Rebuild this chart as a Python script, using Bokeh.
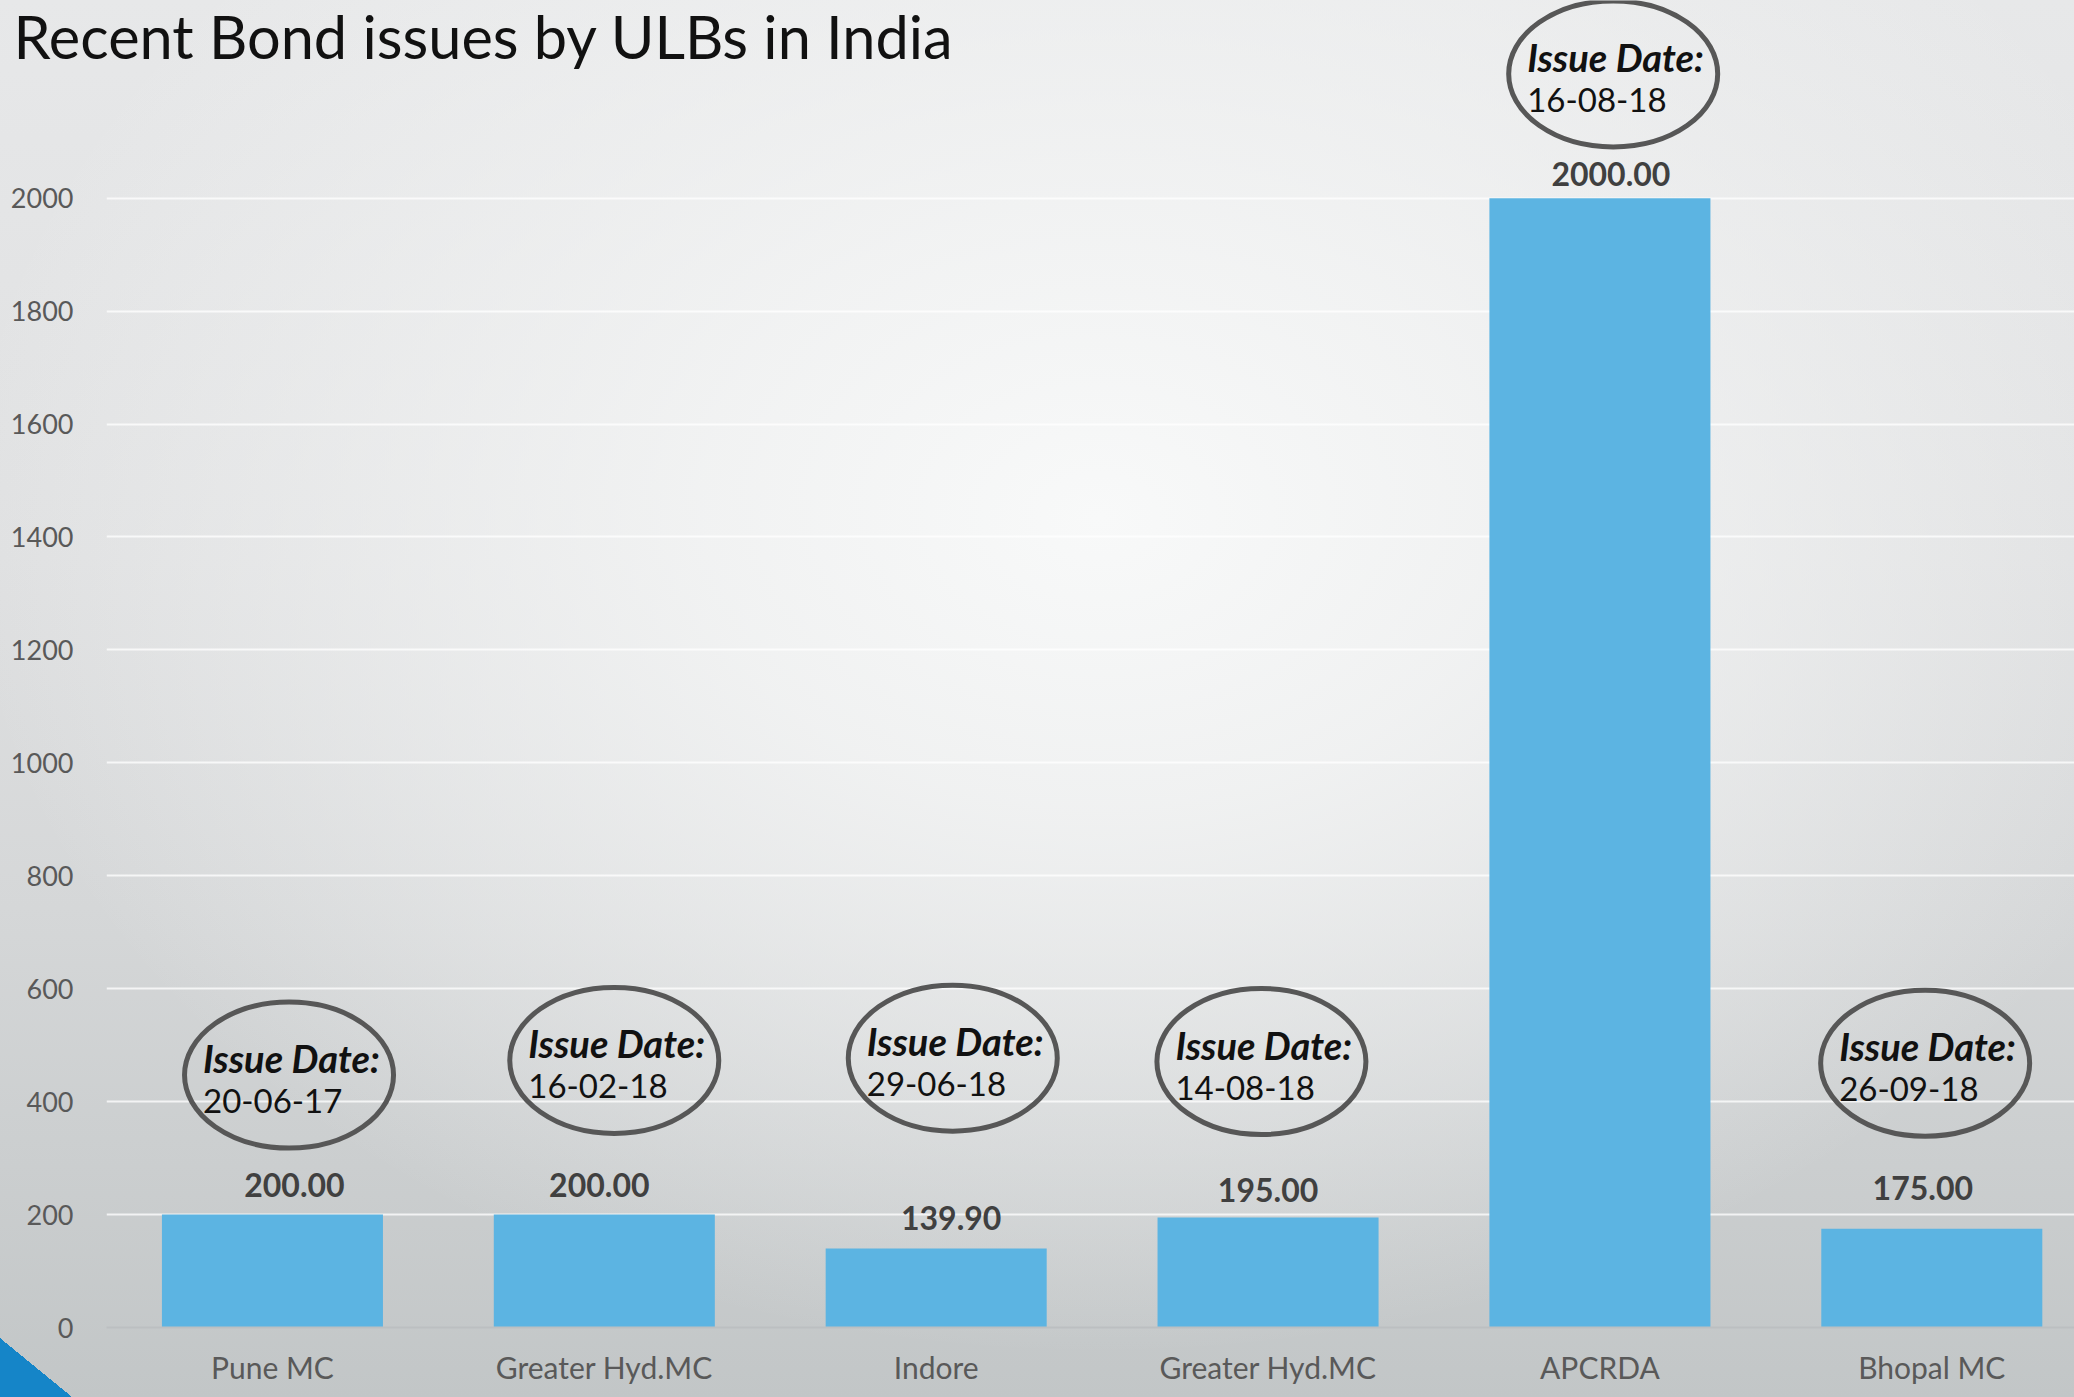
from bokeh.plotting import figure
from bokeh.models import Range1d, FixedTicker, ColumnDataSource
from bokeh.core.properties import value
from bokeh.embed import file_html
from bokeh.resources import INLINE

# ---------------- data ----------------
categories = ["Pune MC", "Greater Hyd.MC", "Indore", "Greater Hyd.MC", "APCRDA", "Bhopal MC"]
amounts = [200.00, 200.00, 139.90, 195.00, 2000.00, 175.00]
issue_dates = ["20-06-17", "16-02-18", "29-06-18", "14-08-18", "16-08-18", "26-09-18"]
y_ticks = [0, 200, 400, 600, 800, 1000, 1200, 1400, 1600, 1800, 2000]
title_text = "Recent Bond issues by ULBs in India"

# ---------------- annotation layout ----------------
callout_y = [447, 473, 477, 471, 2220, 468]          # data units
callout_dx = [0.05, 0.03, 0.05, -0.02, 0.04, -0.02]  # category units
label_dx = [22, -5, 15, 0, 11, -9]                   # screen px
label_dy = [-30, -30, -31, -27, -24, -41]            # screen px

xs = list(range(len(categories)))
src = ColumnDataSource(dict(
    x=xs,
    top=amounts,
    lbl=[f"{v:.2f}" for v in amounts],
    lx=[x + d / 332.0 for x, d in zip(xs, label_dx)],
    ldy=label_dy,
    cx=[x + d for x, d in zip(xs, callout_dx)],
    cy=callout_y,
    head=["Issue Date:"] * len(categories),
    date=issue_dates,
))

FONT = "Lato"

p = figure(width=2074, height=1397, output_backend="svg", toolbar_location=None,
           x_range=Range1d(-0.5, 5.43), y_range=Range1d(0, 2350),
           min_border_left=106, min_border_right=0, min_border_top=0, min_border_bottom=70)

p.background_fill_color = None
p.border_fill_color = None
p.outline_line_color = None
p.styles = {
    "background": (
        "linear-gradient(to top right, #1585c8 50%, rgba(21,133,200,0) 50%) left bottom / 72px 59px no-repeat, "
        "radial-gradient(ellipse 55% 60% at 53% 37%, rgba(248,249,249,1) 0%, rgba(244,245,245,0.85) 35%, rgba(240,241,241,0) 100%), "
        "linear-gradient(to bottom, #e7e8e9 0%, #dfe0e1 40%, #d5d7d8 65%, #c2c6c7 100%)"
    )
}

# title (drawn in the top panel, overlapping the frame; leading blank line pushes it down)
p.title.text = "\n" + title_text
p.title.align = "left"
p.title.vertical_align = "top"
p.title.offset = -93
p.title.standoff = -173
p.title.text_line_height = 1.2
p.title.text_font = FONT
p.title.text_font_style = "normal"
p.title.text_font_size = "59.5px"
p.title.text_color = "#111111"

# axes
p.xaxis.ticker = FixedTicker(ticks=xs)
p.xaxis.major_label_overrides = {i: c for i, c in enumerate(categories)}
p.xaxis.axis_line_color = "#bcbfc1"
p.xaxis.axis_line_width = 2
p.xaxis.major_tick_line_color = None
p.xaxis.minor_tick_line_color = None
p.xaxis.major_label_text_font = FONT
p.xaxis.major_label_text_font_size = "30px"
p.xaxis.major_label_text_color = "#595959"
p.xaxis.major_label_standoff = 15

p.yaxis.ticker = FixedTicker(ticks=y_ticks)
p.yaxis.axis_line_color = None
p.yaxis.major_tick_line_color = None
p.yaxis.minor_tick_line_color = None
p.yaxis.major_label_text_font = FONT
p.yaxis.major_label_text_font_size = "27px"
p.yaxis.major_label_text_color = "#595959"
p.yaxis.major_label_standoff = 27

p.xgrid.grid_line_color = None
p.ygrid.ticker = FixedTicker(ticks=y_ticks)
p.ygrid.grid_line_color = "white"
p.ygrid.grid_line_alpha = 0.75
p.ygrid.grid_line_width = 2

# bars
p.vbar(x="x", top="top", width=0.666, source=src, fill_color="#5cb4e2", line_color=None)

# value labels
p.text(x="lx", y="top", text="lbl", source=src, y_offset="ldy",
       text_align="center", text_baseline="middle",
       text_font=value(FONT), text_font_style="bold", text_font_size="32px", text_color="#404040")

# callouts
p.ellipse(x="cx", y="cy", width=209, height=146, width_units="screen", height_units="screen",
          source=src, fill_color=None, line_color="#575757", line_width=5)
p.text(x="cx", y="cy", text="head", source=src, x_offset=-86, y_offset=-17,
       text_align="left", text_baseline="middle",
       text_font=value(FONT), text_font_style="bold italic", text_font_size="38px", text_color="#111111")
p.text(x="cx", y="cy", text="date", source=src, x_offset=-86, y_offset=26,
       text_align="left", text_baseline="middle",
       text_font=value(FONT), text_font_size="33px", text_color="#111111")

open("out.html", "w").write(file_html(p, INLINE))
